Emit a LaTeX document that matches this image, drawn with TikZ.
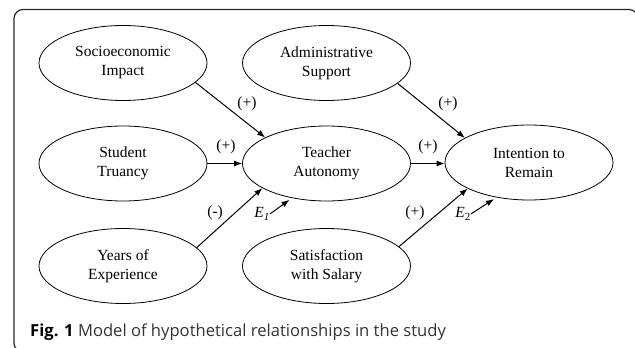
\documentclass[tikz,border=0pt]{standalone}
\usepackage{fontspec}
\setmainfont{Liberation Serif}
\newfontfamily\capfont{Open Sans}
\usetikzlibrary{shapes.geometric,arrows.meta}
\tikzset{
  latent/.style={ellipse,draw,line width=0.8pt,minimum width=168pt,minimum height=75pt,inner sep=0pt,align=center,font=\fontsize{15.5}{19}\selectfont},
  arr/.style={line width=1pt,-{Latex[length=8pt,width=6pt]}},
  sign/.style={font=\fontsize{15.5}{19}\selectfont,inner sep=0pt},
}
\begin{document}
\begin{tikzpicture}[x=1pt,y=-1pt]
\useasboundingbox (0,0) rectangle (635,348);
\begin{scope}
\clip (0,0) rectangle (635,348);
\draw[line width=1.2pt,black!85,rounded corners=9pt] (14,9.5) rectangle (638,352);
\end{scope}
\node[latent] (socio) at (123,63) {Socioeconomic\\Impact};
\node[latent] (admin) at (326.5,63) {Administrative\\Support};
\node[latent] (truancy) at (123,163.5) {Student\\Truancy};
\node[latent] (teacher) at (326.5,163.5) {Teacher\\Autonomy};
\node[latent] (intent) at (529,162.5) {Intention to\\Remain};
\node[latent] (years) at (123,266) {Years of\\Experience};
\node[latent] (salary) at (326.5,266) {Satisfaction\\with Salary};
\draw[arr] (socio.-15) -- (teacher.157);
\draw[arr] (truancy.east) -- (teacher.west);
\draw[arr] (years.14) -- (teacher.-159);
\draw[arr] (admin.-16) -- (intent.159);
\draw[arr] (teacher.east) -- (teacher.east -| intent.west);
\draw[arr] (salary.15) -- (intent.-157);
\node[sign] (s1) at (247,104) {(+)};
\node[sign] (s2) at (226,147) {(+)};
\node[sign] (s3) at (215,213) {(-)};
\node[sign] (s4) at (448,104) {(+)};
\node[sign] (s5) at (428,147) {(+)};
\node[sign] (s6) at (415,213) {(+)};
\node[sign] (e1) at (262,214) {\textit{E}\textsubscript{\textit{1}}};
\node[sign] (e2) at (463,214) {\textit{E}\textsubscript{2}};
\draw[arr,shorten >=3pt] (e1.east) -- (teacher.-135);
\draw[arr,shorten >=3pt] (e2.east) -- (intent.-133);
\node[anchor=base west,inner sep=0pt,font=\capfont\fontsize{16.6}{19}\selectfont,text=black!80] (cap) at (30,336.5) {\textbf{\color{black}Fig. 1} Model of hypothetical relationships in the study};
\end{tikzpicture}
\end{document}
